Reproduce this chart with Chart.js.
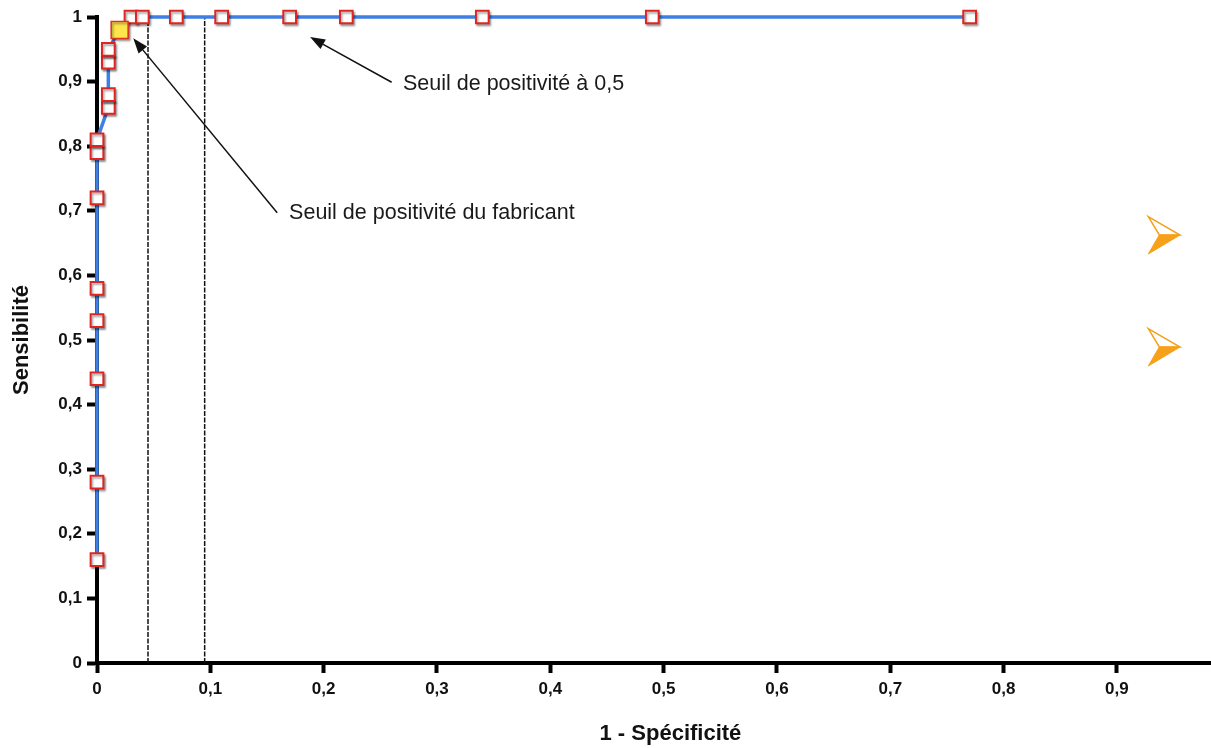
<!DOCTYPE html>
<html lang="fr">
<head>
<meta charset="utf-8">
<script src="https://cdn.jsdelivr.net/npm/chart.js@4.4.1/dist/chart.umd.min.js"></script>
<style>
  html, body { margin: 0; padding: 0; background: #fff; }
  .wrap { position: relative; width: 1211px; height: 748px; }
  #roc { position: absolute; left: 0; top: 0; }
  .bullet { position: absolute; left: 1140px; width: 50px; height: 50px; }
</style>
</head>
<body>
<div class="wrap">
  <canvas id="roc" width="1211" height="748"></canvas>
  <svg class="bullet" style="top:210px" viewBox="1140 210 50 50">
    <polygon points="1148.3,216.7 1180,235 1159.3,235" fill="#fff" stroke="#f7a01a" stroke-width="1.5"/>
    <polygon points="1148.3,254 1180,235 1159.3,235" fill="#f7a01a" stroke="#f7a01a" stroke-width="1"/>
  </svg>
  <svg class="bullet" style="top:322px" viewBox="1140 210 50 50">
    <polygon points="1148.3,216.7 1180,235 1159.3,235" fill="#fff" stroke="#f7a01a" stroke-width="1.5"/>
    <polygon points="1148.3,254 1180,235 1159.3,235" fill="#f7a01a" stroke="#f7a01a" stroke-width="1"/>
  </svg>
</div>

<script>
  // courbe ROC : 1 - spécificité / sensibilité
  const fpr  = [0, 0, 0, 0, 0, 0, 0, 0, 0.01, 0.01, 0.01, 0.01, 0.02, 0.03, 0.04, 0.07, 0.11, 0.17, 0.22, 0.34, 0.49, 0.77];
  const sens = [0.16, 0.28, 0.44, 0.53, 0.58, 0.72, 0.79, 0.81, 0.86, 0.88, 0.93, 0.95, 0.98, 1, 1, 1, 1, 1, 1, 1, 1, 1];

  // seuil du fabricant (point jaune)
  const makerX = [0.02];
  const makerY = [0.98];

  // lignes verticales en pointillés
  const dashedX = [0.045, 0.095];

  const xTicks = [0, 0.1, 0.2, 0.3, 0.4, 0.5, 0.6, 0.7, 0.8, 0.9];
  const yTicks = [0, 0.1, 0.2, 0.3, 0.4, 0.5, 0.6, 0.7, 0.8, 0.9, 1];

  const notes = [
    { text: 'Seuil de positivité à 0,5', tip: [0.188, 0.969], tail: [0.260, 0.899], at: [0.270, 0.896] },
    { text: 'Seuil de positivité du fabricant', tip: [0.032, 0.967], tail: [0.159, 0.697], at: [0.1695, 0.697] }
  ];

  const xTitle = '1 - Spécificité';
  const xTitleAt = 0.506;   // centre du titre, en unités de l'axe x

  const FONT = "'Liberation Sans', Arial, Helvetica, sans-serif";
  const fmt = v => String(Math.round(v * 10) / 10).replace('.', ',');

  const rocPoints = fpr.map((x, i) => ({ x: x, y: sens[i] }));
  const makerPoints = makerX.map((x, i) => ({ x: x, y: makerY[i] }));

  const dashedSets = dashedX.map(x => ({
    data: [{ x: x, y: 0 }, { x: x, y: 1 }],
    borderColor: '#111',
    borderWidth: 1.5,
    borderDash: [5, 1.5],
    pointRadius: 0,
    order: 10
  }));

  // ombre grise sous les marqueurs
  const shadowPlugin = {
    id: 'markerShadow',
    beforeDatasetDraw(chart, args) {
      const ds = chart.data.datasets[args.index];
      chart.ctx.save();
      if (ds.shadow) {
        chart.ctx.shadowColor = 'rgba(0,0,0,0.35)';
        chart.ctx.shadowOffsetX = 1.5;
        chart.ctx.shadowOffsetY = 2;
        chart.ctx.shadowBlur = 2;
      }
    },
    afterDatasetDraw(chart) {
      chart.ctx.restore();
    }
  };

  // flèches, textes d'annotation et titre de l'axe x
  const notesPlugin = {
    id: 'notes',
    afterDatasetsDraw(chart) {
      const ctx = chart.ctx;
      const xs = chart.scales.x, ys = chart.scales.y;
      ctx.save();
      notes.forEach(n => {
        const tx = xs.getPixelForValue(n.tip[0]), ty = ys.getPixelForValue(n.tip[1]);
        const sx = xs.getPixelForValue(n.tail[0]), sy = ys.getPixelForValue(n.tail[1]);
        const ang = Math.atan2(ty - sy, tx - sx);
        const len = 15, half = 5.5;
        const bx = tx - len * Math.cos(ang), by = ty - len * Math.sin(ang);
        ctx.strokeStyle = '#111';
        ctx.lineWidth = 1.5;
        ctx.beginPath();
        ctx.moveTo(sx, sy);
        ctx.lineTo(bx, by);
        ctx.stroke();
        ctx.fillStyle = '#111';
        ctx.beginPath();
        ctx.moveTo(tx, ty);
        ctx.lineTo(bx + half * Math.sin(ang), by - half * Math.cos(ang));
        ctx.lineTo(bx - half * Math.sin(ang), by + half * Math.cos(ang));
        ctx.closePath();
        ctx.fill();

        ctx.font = '21.5px ' + FONT;
        ctx.textAlign = 'left';
        ctx.textBaseline = 'middle';
        ctx.fillStyle = '#1a1a1a';
        ctx.fillText(n.text, xs.getPixelForValue(n.at[0]), ys.getPixelForValue(n.at[1]));
      });

      ctx.font = 'bold 22px ' + FONT;
      ctx.textAlign = 'center';
      ctx.textBaseline = 'alphabetic';
      ctx.fillStyle = '#111';
      ctx.fillText(xTitle, xs.getPixelForValue(xTitleAt), xs.bottom - 8);
      ctx.restore();
    }
  };

  new Chart(document.getElementById('roc'), {
    type: 'line',
    data: {
      datasets: [
        {
          data: makerPoints,
          showLine: false,
          pointStyle: 'rect',
          pointRadius: 12,
          pointBackgroundColor: '#fde64b',
          pointBorderColor: '#e0301e',
          pointBorderWidth: 1.5,
          shadow: true,
          clip: false,
          order: 0
        },
        {
          data: rocPoints,
          showLine: false,
          pointStyle: 'rect',
          pointRadius: 9,
          pointBackgroundColor: '#ffffff',
          pointBorderColor: '#e0241f',
          pointBorderWidth: 2,
          shadow: true,
          clip: false,
          order: 1
        },
        {
          data: rocPoints,
          borderColor: '#3f7fe3',
          borderWidth: 3.5,
          pointRadius: 0,
          tension: 0,
          clip: false,
          order: 2
        },
        ...dashedSets
      ]
    },
    options: {
      responsive: false,
      animation: false,
      layout: { autoPadding: false, padding: { top: 17, right: 0, bottom: 0, left: 0 } },
      plugins: { legend: { display: false }, tooltip: { enabled: false } },
      scales: {
        x: {
          type: 'linear',
          min: 0,
          max: 0.983,
          afterBuildTicks: s => { s.ticks = xTicks.map(v => ({ value: v })); },
          afterFit: s => { s.height = 85; },
          border: { display: true, color: '#000', width: 4 },
          grid: { display: true, drawOnChartArea: false, drawTicks: true, tickLength: 10, tickWidth: 4, tickColor: '#000' },
          ticks: {
            padding: 6,
            color: '#111',
            font: { family: FONT, size: 17, weight: 'bold' },
            callback: v => fmt(v)
          },
          title: { display: false }
        },
        y: {
          type: 'linear',
          min: 0,
          max: 1,
          afterBuildTicks: s => { s.ticks = yTicks.map(v => ({ value: v })); },
          afterFit: s => { s.width = 97; },
          border: { display: true, color: '#000', width: 4 },
          grid: { display: true, drawOnChartArea: false, drawTicks: true, tickLength: 10, tickWidth: 4, tickColor: '#000' },
          ticks: {
            padding: 5,
            color: '#111',
            font: { family: FONT, size: 17, weight: 'bold' },
            callback: v => fmt(v)
          },
          title: {
            display: true,
            text: 'Sensibilité',
            color: '#111',
            font: { family: FONT, size: 22, weight: 'bold', lineHeight: 1 },
            padding: { top: 11, bottom: 0 }
          }
        }
      }
    },
    plugins: [shadowPlugin, notesPlugin]
  });
</script>
</body>
</html>
